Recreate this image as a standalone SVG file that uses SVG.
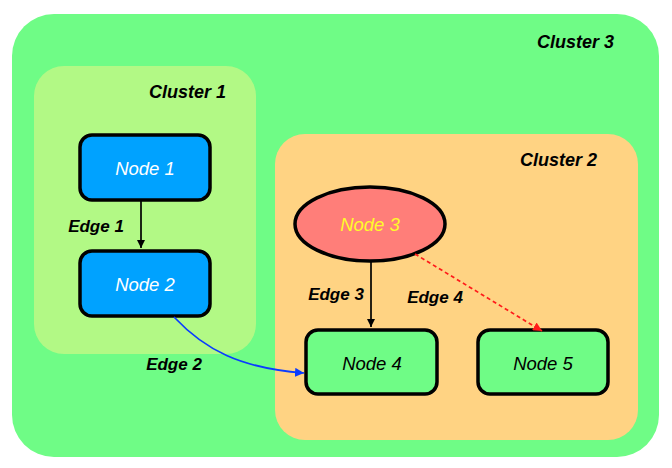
<svg xmlns="http://www.w3.org/2000/svg" width="672" height="468" viewBox="0 0 672 468">
<style>
.clabel{font-family:"Liberation Sans",Arial,sans-serif;font-size:18px;font-weight:bold;font-style:italic;fill:#000;text-anchor:end}
.nlabel{font-family:"Liberation Sans",Arial,sans-serif;font-size:18.5px;font-style:italic;text-anchor:middle}
.elabel{font-family:"Liberation Sans",Arial,sans-serif;font-size:17px;font-weight:bold;font-style:italic;fill:#000;text-anchor:middle}
.node{stroke:#000;stroke-width:3.5}
.edge{fill:none;stroke-width:1.7}
</style>
<defs>
<marker id="ab" viewBox="0 0 10 10" refX="10" refY="5" markerWidth="8" markerHeight="8" markerUnits="userSpaceOnUse" orient="auto"><path d="M0,0L10,5L0,10z" fill="#000"/></marker>
<marker id="ablue" viewBox="0 0 10 10" refX="10" refY="5" markerWidth="9" markerHeight="9" markerUnits="userSpaceOnUse" orient="auto"><path d="M0,0L10,5L0,10z" fill="#0a3cff"/></marker>
<marker id="ared" viewBox="0 0 10 10" refX="10" refY="5" markerWidth="9" markerHeight="9" markerUnits="userSpaceOnUse" orient="auto"><path d="M0,0L10,5L0,10z" fill="#ff1a1a"/></marker>
</defs>
<rect width="672" height="468" fill="#fff"/>
<g id="cluster3"><rect x="12" y="14" width="647" height="443" rx="42" fill="#6ffc86"/><text class="clabel" x="614" y="48">Cluster 3</text></g>
<g id="cluster1"><rect x="34" y="66" width="222" height="288" rx="30" fill="#b2f985"/><text class="clabel" x="226" y="98">Cluster 1</text></g>
<g id="cluster2"><rect x="275" y="134" width="363" height="306" rx="30" fill="#ffd383"/><text class="clabel" x="597" y="166">Cluster 2</text></g>
<g id="node1"><rect class="node" x="80" y="135" width="130" height="65" rx="12" fill="#00a2ff"/><text class="nlabel" x="145" y="175" fill="#fff">Node 1</text></g>
<g id="node2"><rect class="node" x="80" y="251" width="130" height="65" rx="12" fill="#00a2ff"/><text class="nlabel" x="145" y="291" fill="#fff">Node 2</text></g>
<g id="node3"><ellipse class="node" cx="370" cy="224" rx="75" ry="37" fill="#ff7e79"/><text class="nlabel" x="370" y="231" fill="#fffb2a">Node 3</text></g>
<g id="node4"><rect class="node" x="306" y="330" width="131" height="64" rx="12" fill="#6ffc86"/><text class="nlabel" x="372" y="370" fill="#000">Node 4</text></g>
<g id="node5"><rect class="node" x="478" y="330" width="130" height="64" rx="12" fill="#6ffc86"/><text class="nlabel" x="543" y="370" fill="#000">Node 5</text></g>
<g id="edges">
<path class="edge" d="M141,201L141,248" stroke="#000" marker-end="url(#ab)"/>
<text class="elabel" x="96" y="232">Edge 1</text>
<path class="edge" d="M174,317C205,350 240,368 304,373" stroke="#0a3cff" marker-end="url(#ablue)"/>
<text class="elabel" x="174" y="370">Edge 2</text>
<path class="edge" d="M371,262L371,327" stroke="#000" marker-end="url(#ab)"/>
<text class="elabel" x="336" y="300">Edge 3</text>
<path class="edge" d="M415,254L542,331" stroke="#ff1a1a" stroke-dasharray="4,3" marker-end="url(#ared)"/>
<text class="elabel" x="435" y="303">Edge 4</text>
</g>
</svg>
